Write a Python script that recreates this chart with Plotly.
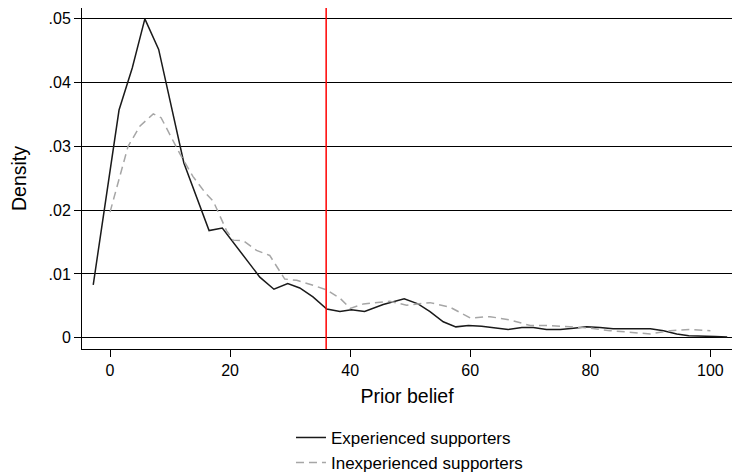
import plotly.graph_objects as go

# Kernel density estimates of prior belief, by supporter experience
exp_x = [-2.8, 1.5, 3.7, 5.8, 8.1, 12.3, 16.5, 18.7, 24.95, 27.3, 29.6, 31.6, 33.8,
         36.1, 38.3, 40.2, 42.4, 45.5, 49.0, 51.3, 53.3, 55.5, 57.6, 59.7, 61.9,
         64.1, 66.3, 68.6, 70.5, 72.7, 75.0, 77.2, 79.4, 81.6, 83.8, 87.7, 90.0,
         92.2, 94.4, 96.4, 98.6, 100.8, 102.8]
exp_y = [0.0083, 0.0357, 0.0423, 0.0500, 0.0452, 0.0274, 0.0168, 0.0172, 0.0095,
         0.0076, 0.0085, 0.0078, 0.0064, 0.0045, 0.0041, 0.0044, 0.0041, 0.0052,
         0.0061, 0.0053, 0.0041, 0.0025, 0.0017, 0.0019, 0.0018, 0.0015, 0.0013,
         0.0016, 0.0016, 0.0013, 0.0013, 0.0015, 0.0017, 0.0016, 0.0014, 0.0014,
         0.0014, 0.0011, 0.0006, 0.0003, 0.0003, 0.0002, 0.0001]

inexp_x = [0.0, 1.5, 3.0, 5.0, 7.2, 8.5, 9.7, 11.6, 13.8, 15.8, 17.2, 19.4, 20.5,
           22.2, 24.4, 26.6, 29.1, 31.1, 33.9, 36.1, 38.3, 40.0, 42.2, 44.9, 46.6,
           49.4, 53.3, 56.6, 60.0, 63.3, 66.6, 70.0, 73.3, 76.6, 80.0, 83.3, 86.6,
           90.0, 93.3, 96.6, 100.0]
inexp_y = [0.0197, 0.0250, 0.0300, 0.0332, 0.0351, 0.0345, 0.0323, 0.0289, 0.0253,
           0.0228, 0.0214, 0.0168, 0.0153, 0.0152, 0.0137, 0.0129, 0.0092, 0.0090,
           0.0082, 0.0075, 0.0062, 0.0046, 0.0053, 0.0056, 0.0057, 0.0051, 0.0055,
           0.0048, 0.0031, 0.0033, 0.0028, 0.0019, 0.0019, 0.0017, 0.0015, 0.0011,
           0.0009, 0.0006, 0.0011, 0.0013, 0.0011]

threshold = 36.0
x_ticks = [0, 20, 40, 60, 80, 100]
y_ticks = [0, 0.01, 0.02, 0.03, 0.04, 0.05]
y_tick_text = ["0", ".01", ".02", ".03", ".04", ".05"]

FONT = "Liberation Sans, Arial, sans-serif"

fig = go.Figure()
fig.add_trace(go.Scatter(x=exp_x, y=exp_y, mode="lines", name="Experienced supporters",
                         line=dict(color="#1a1a1a", width=1.5)))
fig.add_trace(go.Scatter(x=inexp_x, y=inexp_y, mode="lines", name="Inexperienced supporters",
                         line=dict(color="#a6a6a6", width=1.5, dash="8px,5px")))

fig.add_shape(type="line", xref="x", yref="paper", x0=threshold, x1=threshold, y0=0, y1=1,
              line=dict(color="red", width=1.5))

fig.update_layout(
    width=732, height=475,
    margin=dict(l=82, r=0, t=8, b=126, autoexpand=False),
    paper_bgcolor="white", plot_bgcolor="white",
    font=dict(family=FONT, size=16, color="black"),
    showlegend=True,
    legend=dict(x=0.3215, xanchor="left", y=-0.208, yanchor="top",
                orientation="v", font=dict(size=17), tracegroupgap=0,
                bgcolor="rgba(0,0,0,0)"),
    xaxis=dict(range=[-4.67, 103.6], tickvals=x_ticks, showgrid=False, zeroline=False,
               showline=True, linecolor="black", linewidth=1, automargin=False,
               ticks="outside", ticklen=7, tickcolor="black",
               title=dict(text="Prior belief", standoff=11, font=dict(size=19.5))),
    yaxis=dict(range=[-0.00177, 0.0517], tickvals=y_ticks, ticktext=y_tick_text,
               showgrid=True, gridcolor="black", gridwidth=1, zeroline=False,
               showline=True, linecolor="black", linewidth=1, automargin=False,
               ticks="outside", ticklen=7, tickcolor="black",
               title=dict(text="Density", standoff=16, font=dict(size=19.5))),
)

fig.write_html("out.html")
